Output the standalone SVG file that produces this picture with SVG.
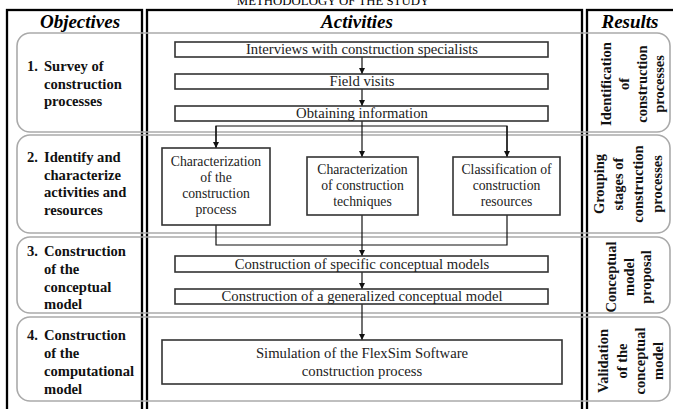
<svg xmlns="http://www.w3.org/2000/svg" width="673" height="409" viewBox="0 0 673 409">
  <style>
    .title { font-family: "Liberation Serif", "Times New Roman", serif; font-size: 12.8px; fill: #000; }
    .head { font-family: "Liberation Serif", "Times New Roman", serif; font-size: 19px; font-weight: bold; font-style: italic; fill: #000; }
    .obj { font-family: "Liberation Serif", "Times New Roman", serif; font-size: 14.6px; font-weight: bold; fill: #111; }
    .res { font-family: "Liberation Serif", "Times New Roman", serif; font-size: 14.5px; font-weight: bold; fill: #111; text-anchor: middle; }
    .act { font-family: "Liberation Serif", "Times New Roman", serif; font-size: 14.7px; fill: #222; text-anchor: middle; }
    .actS { font-family: "Liberation Serif", "Times New Roman", serif; font-size: 13.7px; fill: #222; text-anchor: middle; }
    .col { fill: none; stroke: #000; stroke-width: 2.3; }
    .band { fill: none; stroke: #aaaaaa; stroke-width: 1.6; }
    .box { fill: #fff; stroke: #333; stroke-width: 1.6; }
    .wire { fill: none; stroke: #111; stroke-width: 1.2; }
  </style>
  <defs>
    <marker id="arrow" markerUnits="userSpaceOnUse" markerWidth="6" markerHeight="6" viewBox="0 0 6 6" refX="6" refY="3" orient="auto">
      <path d="M0,0 L6,3 L0,6 Z" fill="#111"/>
    </marker>
  </defs>

  <rect width="673" height="409" fill="#fff"/>

  <!-- caption -->
  <text class="title" x="333" y="5" text-anchor="middle">METHODOLOGY OF THE STUDY</text>

  <!-- three column frames -->
  <g id="columns">
    <rect class="col" x="7" y="10" width="135" height="420"/>
    <rect class="col" x="147" y="10" width="435" height="420"/>
    <rect class="col" x="587" y="10" width="100" height="420"/>
    <text class="head" x="80" y="28" text-anchor="middle">Objectives</text>
    <text class="head" x="357" y="28" text-anchor="middle">Activities</text>
    <text class="head" x="630" y="28" text-anchor="middle">Results</text>
  </g>

  <!-- stage bands -->
  <g id="band1">
    <rect class="band" x="17" y="33" width="653" height="99" rx="13"/>
    <text class="obj" x="27" y="71">1.</text>
    <text class="obj" x="44" y="71">Survey of</text>
    <text class="obj" x="44" y="88.5">construction</text>
    <text class="obj" x="44" y="106">processes</text>
    <g transform="translate(0,84) rotate(-90)">
      <text class="res" x="0" y="611">Identification</text>
      <text class="res" x="0" y="629">of</text>
      <text class="res" x="0" y="647">construction</text>
      <text class="res" x="0" y="664">processes</text>
    </g>
  </g>

  <g id="band2">
    <rect class="band" x="17" y="135" width="653" height="98" rx="13"/>
    <text class="obj" x="27" y="162">2.</text>
    <text class="obj" x="44" y="162">Identify and</text>
    <text class="obj" x="44" y="179.5">characterize</text>
    <text class="obj" x="44" y="197">activities and</text>
    <text class="obj" x="44" y="214.5">resources</text>
    <g transform="translate(0,184) rotate(-90)">
      <text class="res" x="0" y="604">Grouping</text>
      <text class="res" x="0" y="623">stages of</text>
      <text class="res" x="0" y="643">construction</text>
      <text class="res" x="0" y="662">processes</text>
    </g>
  </g>

  <g id="band3">
    <rect class="band" x="17" y="237" width="653" height="76" rx="13"/>
    <text class="obj" x="27" y="256">3.</text>
    <text class="obj" x="44" y="256">Construction</text>
    <text class="obj" x="44" y="274">of the</text>
    <text class="obj" x="44" y="291.5">conceptual</text>
    <text class="obj" x="44" y="309">model</text>
    <g transform="translate(0,277) rotate(-90)">
      <text class="res" x="0" y="616">Conceptual</text>
      <text class="res" x="0" y="634">model</text>
      <text class="res" x="0" y="651">proposal</text>
    </g>
  </g>

  <g id="band4">
    <rect class="band" x="17" y="317" width="653" height="84" rx="13"/>
    <text class="obj" x="27" y="340">4.</text>
    <text class="obj" x="44" y="340">Construction</text>
    <text class="obj" x="44" y="358">of the</text>
    <text class="obj" x="44" y="376">computational</text>
    <text class="obj" x="44" y="394">model</text>
    <g transform="translate(0,361) rotate(-90)">
      <text class="res" x="0" y="608">Validation</text>
      <text class="res" x="0" y="627">of the</text>
      <text class="res" x="0" y="645">conceptual</text>
      <text class="res" x="0" y="663">model</text>
    </g>
  </g>

  <!-- connectors -->
  <g id="connectors">
    <line class="wire" x1="362" y1="57" x2="362" y2="74" marker-end="url(#arrow)"/>
    <line class="wire" x1="362" y1="89" x2="362" y2="106" marker-end="url(#arrow)"/>
    <line class="wire" x1="362" y1="121" x2="362" y2="157" marker-end="url(#arrow)"/>
    <polyline class="wire" points="216,148 216,126 507,126 507,157"/>
    <line class="wire" x1="216" y1="126" x2="216" y2="148" marker-end="url(#arrow)"/>
    <line class="wire" x1="507" y1="126" x2="507" y2="157" marker-end="url(#arrow)"/>
    <polyline class="wire" points="216,225 216,245 507,245 507,215"/>
    <line class="wire" x1="362" y1="215" x2="362" y2="256" marker-end="url(#arrow)"/>
    <line class="wire" x1="362" y1="272" x2="362" y2="289" marker-end="url(#arrow)"/>
    <line class="wire" x1="362" y1="304" x2="362" y2="340" marker-end="url(#arrow)"/>
  </g>

  <!-- activity nodes -->
  <g id="interviews">
    <rect class="box" x="175" y="42" width="373" height="15"/>
    <text class="act" x="362" y="54">Interviews with construction specialists</text>
  </g>
  <g id="field-visits">
    <rect class="box" x="175" y="74" width="373" height="15"/>
    <text class="act" x="362" y="86">Field visits</text>
  </g>
  <g id="obtaining-info">
    <rect class="box" x="175" y="106" width="373" height="15"/>
    <text class="act" x="362" y="118">Obtaining information</text>
  </g>
  <g id="char-process">
    <rect class="box" x="162" y="148" width="108" height="77"/>
    <text class="actS" x="216" y="166">Characterization</text>
    <text class="actS" x="216" y="182">of the</text>
    <text class="actS" x="216" y="198">construction</text>
    <text class="actS" x="216" y="214">process</text>
  </g>
  <g id="char-techniques">
    <rect class="box" x="307" y="157" width="111" height="58"/>
    <text class="actS" x="362.5" y="174">Characterization</text>
    <text class="actS" x="362.5" y="190">of construction</text>
    <text class="actS" x="362.5" y="206">techniques</text>
  </g>
  <g id="class-resources">
    <rect class="box" x="453" y="157" width="107" height="58"/>
    <text class="actS" x="506.5" y="174">Classification of</text>
    <text class="actS" x="506.5" y="190">construction</text>
    <text class="actS" x="506.5" y="206">resources</text>
  </g>
  <g id="specific-models">
    <rect class="box" x="175" y="256" width="373" height="16"/>
    <text class="act" x="362" y="268.5">Construction of specific conceptual models</text>
  </g>
  <g id="generalized-model">
    <rect class="box" x="175" y="289" width="373" height="15"/>
    <text class="act" x="362" y="301">Construction of a generalized conceptual model</text>
  </g>
  <g id="simulation">
    <rect class="box" x="162" y="340" width="400" height="44"/>
    <text class="act" x="362" y="358">Simulation of the FlexSim Software</text>
    <text class="act" x="362" y="376">construction process</text>
  </g>
</svg>
